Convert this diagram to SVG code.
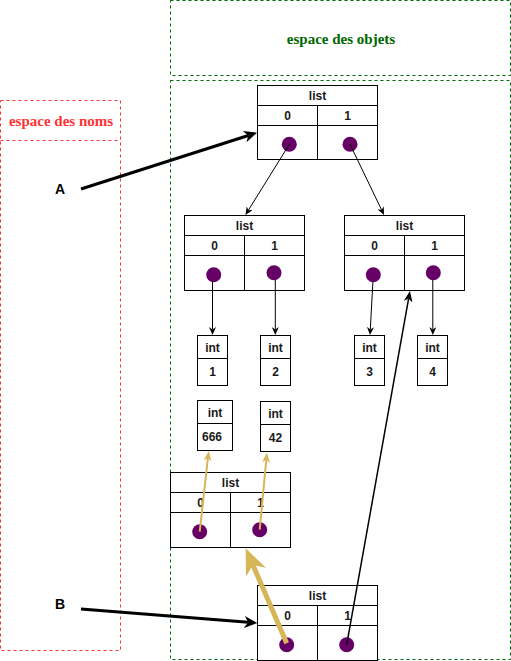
<svg xmlns="http://www.w3.org/2000/svg" width="511" height="661" viewBox="0 0 511 661">
<style>
.cell{fill:#ffffff;stroke:#000000;stroke-width:1}
.t{font-family:"Liberation Sans",Arial,sans-serif;font-weight:bold;font-size:12px;fill:#1a1a1a;text-anchor:middle}
.lbl{font-family:"Liberation Sans",Arial,sans-serif;font-weight:bold;font-size:14px;fill:#000000;text-anchor:middle}
.dot{fill:#660066}
.zone-g{fill:none;stroke:#006600;stroke-width:1;stroke-dasharray:3 3}
.zone-r{fill:none;stroke:#ff3333;stroke-width:1;stroke-dasharray:3 3}
.title{font-family:"Liberation Serif","Times New Roman",serif;font-weight:bold;font-size:15px;text-anchor:middle}
.thin{fill:none;stroke:#000000;stroke-width:1;marker-end:url(#m-thin)}
</style>
<defs>
<marker id="m-thin" viewBox="0 0 10 10" refX="3" refY="5" markerWidth="8" markerHeight="7" markerUnits="userSpaceOnUse" orient="auto" preserveAspectRatio="none"><path d="M0,0 L10,5 L0,10 L3,5 Z" fill="#000000"/></marker>
<marker id="m-long" viewBox="0 0 10 10" refX="3" refY="5" markerWidth="11" markerHeight="9" markerUnits="userSpaceOnUse" orient="auto" preserveAspectRatio="none"><path d="M0,0 L10,5 L0,10 L3,5 Z" fill="#000000"/></marker>
<marker id="m-bold" viewBox="0 0 10 10" refX="3" refY="5" markerWidth="13" markerHeight="12" markerUnits="userSpaceOnUse" orient="auto" preserveAspectRatio="none"><path d="M0,0 L10,5 L0,10 L3,5 Z" fill="#000000"/></marker>
<marker id="m-gold" viewBox="0 0 10 10" refX="3" refY="5" markerWidth="10" markerHeight="8" markerUnits="userSpaceOnUse" orient="auto" preserveAspectRatio="none"><path d="M0,0 L10,5 L0,10 L3,5 Z" fill="#d6b656"/></marker>
<marker id="m-gold-big" viewBox="0 0 10 10" refX="3" refY="5" markerWidth="26" markerHeight="22" markerUnits="userSpaceOnUse" orient="auto" preserveAspectRatio="none"><path d="M0,0 L10,5 L0,10 L3,5 Z" fill="#d6b656"/></marker>
</defs>
<rect width="511" height="661" fill="#ffffff"/>

<g id="zone-objets">
<rect class="zone-g" x="170.5" y="0.5" width="340" height="75"/>
<text class="title" x="341" y="44" fill="#006600">espace des objets</text>
<rect class="zone-g" x="170.5" y="80.5" width="340" height="579"/>
</g>

<g id="zone-noms">
<rect class="zone-r" x="0.5" y="100.5" width="120" height="550"/>
<line class="zone-r" x1="0.5" y1="140.5" x2="120.5" y2="140.5"/>
<text class="title" x="61" y="126" fill="#ff3333">espace des noms</text>
</g>

<g id="name-A"><text class="lbl" x="60" y="194">A</text></g>
<g id="name-B"><text class="lbl" x="60" y="609">B</text></g>

<g id="list-top">
<rect class="cell" x="257.5" y="85.5" width="120" height="20"/>
<rect class="cell" x="257.5" y="105.5" width="60" height="20"/>
<rect class="cell" x="317.5" y="105.5" width="60" height="20"/>
<rect class="cell" x="257.5" y="125.5" width="60" height="34"/>
<rect class="cell" x="317.5" y="125.5" width="60" height="34"/>
<text class="t" x="317.5" y="100">list</text>
<text class="t" x="287.5" y="120">0</text>
<text class="t" x="347.5" y="120">1</text>
<circle class="dot" cx="289.3" cy="144.3" r="7.5"/>
<circle class="dot" cx="350" cy="144.3" r="7.5"/>
</g>

<g id="list-left">
<rect class="cell" x="184.5" y="215.5" width="120" height="20"/>
<rect class="cell" x="184.5" y="235.5" width="60" height="20"/>
<rect class="cell" x="244.5" y="235.5" width="60" height="20"/>
<rect class="cell" x="184.5" y="255.5" width="60" height="35"/>
<rect class="cell" x="244.5" y="255.5" width="60" height="35"/>
<text class="t" x="244.5" y="230">list</text>
<text class="t" x="214.5" y="250">0</text>
<text class="t" x="274.5" y="250">1</text>
<circle class="dot" cx="213.7" cy="274.7" r="7.5"/>
<circle class="dot" cx="274" cy="272.7" r="7.5"/>
</g>

<g id="list-right">
<rect class="cell" x="344.5" y="215.5" width="120" height="20"/>
<rect class="cell" x="344.5" y="235.5" width="60" height="20"/>
<rect class="cell" x="404.5" y="235.5" width="60" height="20"/>
<rect class="cell" x="344.5" y="255.5" width="60" height="35"/>
<rect class="cell" x="404.5" y="255.5" width="60" height="35"/>
<text class="t" x="404.5" y="230">list</text>
<text class="t" x="374.5" y="250">0</text>
<text class="t" x="434.5" y="250">1</text>
<circle class="dot" cx="373.3" cy="274.7" r="7.5"/>
<circle class="dot" cx="433.3" cy="272.7" r="7.5"/>
</g>

<g id="int-1">
<rect class="cell" x="197.5" y="335.5" width="30" height="23"/>
<rect class="cell" x="197.5" y="358.5" width="30" height="27"/>
<text class="t" x="212.5" y="352">int</text>
<text class="t" x="212.5" y="376">1</text>
</g>
<g id="int-2">
<rect class="cell" x="260.5" y="335.5" width="30" height="23"/>
<rect class="cell" x="260.5" y="358.5" width="30" height="27"/>
<text class="t" x="275.5" y="352">int</text>
<text class="t" x="275.5" y="376">2</text>
</g>
<g id="int-3">
<rect class="cell" x="354.5" y="335.5" width="30" height="23"/>
<rect class="cell" x="354.5" y="358.5" width="30" height="27"/>
<text class="t" x="369.5" y="352">int</text>
<text class="t" x="369.5" y="376">3</text>
</g>
<g id="int-4">
<rect class="cell" x="417.5" y="335.5" width="30" height="23"/>
<rect class="cell" x="417.5" y="358.5" width="30" height="27"/>
<text class="t" x="432.5" y="352">int</text>
<text class="t" x="432.5" y="376">4</text>
</g>
<g id="int-666">
<rect class="cell" x="197.5" y="400.5" width="35" height="23"/>
<rect class="cell" x="197.5" y="423.5" width="35" height="27"/>
<text class="t" x="215" y="417">int</text>
<text class="t" x="212" y="441">666</text>
</g>
<g id="int-42">
<rect class="cell" x="260.5" y="401.5" width="30" height="23"/>
<rect class="cell" x="260.5" y="424.5" width="30" height="27"/>
<text class="t" x="275.5" y="418">int</text>
<text class="t" x="275.5" y="442">42</text>
</g>

<g id="list-mid">
<rect class="cell" x="170.5" y="472.5" width="120" height="20"/>
<rect class="cell" x="170.5" y="492.5" width="60" height="20"/>
<rect class="cell" x="230.5" y="492.5" width="60" height="20"/>
<rect class="cell" x="170.5" y="512.5" width="60" height="35"/>
<rect class="cell" x="230.5" y="512.5" width="60" height="35"/>
<text class="t" x="230.5" y="487">list</text>
<text class="t" x="200.5" y="507">0</text>
<text class="t" x="260.5" y="507">1</text>
<circle class="dot" cx="199.7" cy="531.7" r="7.5"/>
<circle class="dot" cx="259.7" cy="529.7" r="7.5"/>
</g>

<g id="list-bottom">
<rect class="cell" x="257.5" y="585.5" width="120" height="20"/>
<rect class="cell" x="257.5" y="605.5" width="60" height="20"/>
<rect class="cell" x="317.5" y="605.5" width="60" height="20"/>
<rect class="cell" x="257.5" y="625.5" width="60" height="35"/>
<rect class="cell" x="317.5" y="625.5" width="60" height="35"/>
<text class="t" x="317.5" y="600">list</text>
<text class="t" x="287.5" y="620">0</text>
<text class="t" x="347.5" y="620">1</text>
<circle class="dot" cx="286.7" cy="644.7" r="7.5"/>
<circle class="dot" cx="346.7" cy="644.7" r="7.5"/>
</g>

<g id="connectors">
<line class="thin" x1="289.3" y1="144.3" x2="248.4" y2="210.2"/>
<line class="thin" x1="350" y1="144.3" x2="381.6" y2="209.9"/>
<line class="thin" x1="212.5" y1="282" x2="212.5" y2="329.4"/>
<line class="thin" x1="275.3" y1="280" x2="275.3" y2="329.4"/>
<line class="thin" x1="372.9" y1="282" x2="370.3" y2="329.4"/>
<line class="thin" x1="432.8" y1="280" x2="432.8" y2="329.4"/>
<line x1="346.7" y1="644.7" x2="408.6" y2="298.6" stroke="#000000" stroke-width="1.5" marker-end="url(#m-long)"/>
<line x1="81" y1="189" x2="248.3" y2="135.5" stroke="#000000" stroke-width="3" marker-end="url(#m-bold)"/>
<line x1="81" y1="609" x2="248.2" y2="622.3" stroke="#000000" stroke-width="3" marker-end="url(#m-bold)"/>
<line x1="199.7" y1="531.7" x2="207.9" y2="458" stroke="#d6b656" stroke-width="2" marker-end="url(#m-gold)"/>
<line x1="259.7" y1="529.7" x2="266.3" y2="459.7" stroke="#d6b656" stroke-width="2" marker-end="url(#m-gold)"/>
<line x1="286.7" y1="643.3" x2="252.9" y2="565" stroke="#d6b656" stroke-width="5" marker-end="url(#m-gold-big)"/>
</g>
</svg>
